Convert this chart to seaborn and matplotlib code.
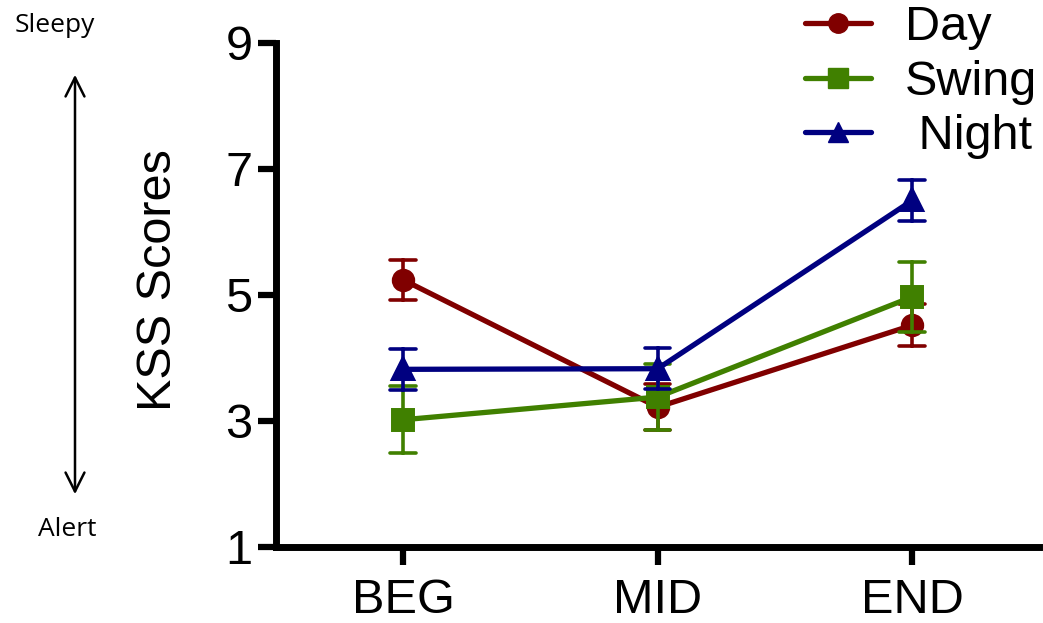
import pandas as pd
import matplotlib.pyplot as plt
from matplotlib.lines import Line2D
import seaborn as sns

# datos (media y error estandar por turno)
fases = ['BEG', 'MID', 'END']
turnos = ['Day', 'Swing', 'Night']
media_day = [5.24, 3.22, 4.52]
sem_day = [0.32, 0.36, 0.33]
media_swing = [3.02, 3.38, 4.97]
sem_swing = [0.53, 0.53, 0.55]
media_night = [3.82, 3.83, 6.50]
sem_night = [0.33, 0.33, 0.33]
colores = ['#800000', '#408000', '#000080']
marcadores = ['o', 's', '^']


def arma_tabla():
    # dos filas por punto (media-sem y media+sem): la media da el centro
    # y el intervalo 0-100 da la barra de error
    filas = []
    for turno, medias, sems in zip(turnos,
                                   [media_day, media_swing, media_night],
                                   [sem_day, sem_swing, sem_night]):
        for fase, m, s in zip(fases, medias, sems):
            filas.append({'fase': fase, 'turno': turno, 'kss': m - s})
            filas.append({'fase': fase, 'turno': turno, 'kss': m + s})
    return pd.DataFrame(filas)


sns.set_style('ticks')
plt.rcParams['font.family'] = ['Liberation Sans', 'DejaVu Sans']
plt.rcParams['text.color'] = 'black'
plt.rcParams['axes.labelcolor'] = 'black'
plt.rcParams['xtick.color'] = 'black'
plt.rcParams['ytick.color'] = 'black'

fig = plt.figure(figsize=(10.43, 6.23), dpi=100)
ax = fig.add_axes([0.2646, 0.122, 0.732, 0.809])

df = arma_tabla()
sns.pointplot(data=df, x='fase', y='kss', hue='turno', order=fases,
              hue_order=turnos, palette=colores, markers=marcadores,
              linestyles='-', estimator='mean', errorbar=('pi', 100),
              capsize=0.1, err_kws={'linewidth': 2.6}, markersize=14,
              linewidth=3.8, dodge=False, legend=False, ax=ax)

ax.set_xlim(-0.5, 2.5)
ax.set_ylim(1, 9)
ax.set_yticks([1, 3, 5, 7, 9])
ax.set_xlabel('')
ax.set_ylabel('KSS Scores', fontsize=35)
ax.yaxis.set_label_coords(-0.1545, 0.53)
ax.yaxis.label.set_verticalalignment('center')

sns.despine(ax=ax)
for lado in ['left', 'bottom']:
    ax.spines[lado].set_linewidth(5)
    ax.spines[lado].set_color('black')
ax.tick_params(axis='both', length=13, width=4.5, labelsize=35, color='black')
ax.tick_params(axis='y', pad=4)
ax.tick_params(axis='x', pad=9)

# leyenda hecha a mano
manijas = [Line2D([], [], color=c, marker=m, lw=3.8, markersize=14)
           for c, m in zip(colores, marcadores)]
fig.legend(manijas, ['Day', 'Swing', ' Night'], loc='upper left',
           bbox_to_anchor=(0.772, 0.992), frameon=False, fontsize=35,
           handlelength=1.35, handletextpad=0.7, labelspacing=0.2,
           borderpad=0, borderaxespad=0)

# flecha Sleepy / Alert a la izquierda
ax.annotate('', xy=(75, 623 - 72), xytext=(75, 623 - 497),
            xycoords='figure pixels', textcoords='figure pixels',
            arrowprops=dict(arrowstyle='<->', lw=1.8, color='black',
                            mutation_scale=34))
fig.text(55 / 1043, 1 - 25 / 623, 'Sleepy', fontsize=19, family='Open Sans',
         ha='center', va='center')
fig.text(67 / 1043, 1 - 530 / 623, 'Alert', fontsize=19, family='Open Sans',
         ha='center', va='center')

fig.savefig('out.png', dpi=100)
plt.close()
